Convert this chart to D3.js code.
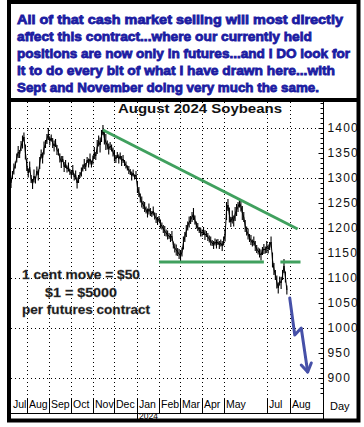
<!DOCTYPE html>
<html>
<head>
<meta charset="utf-8">
<title>August 2024 Soybeans</title>
<style>
body { margin: 0; background: #fff; }
svg { display: block; }
</style>
</head>
<body>
<div id="chart"></div>

<script src="https://cdn.jsdelivr.net/npm/d3@7"></script>
<script>

// comment box at the top, one entry per line, with the width each line takes
var noteLines = [
  "All of that cash market selling will most directly",
  "affect this contract...where our currently held",
  "positions are now only in futures...and I DO look for",
  "it to do every bit of what I have drawn here...with",
  "Sept and November doing very much the same."
];
var noteWidths = [326, 295, 333, 318, 302];

var chartTitle = "August 2024 Soybeans";

var contractNotes = ["1 cent move = $50", "$1 = $5000", "per futures contract"];

// price every 2 calendar days starting Jul 10 2023
var startDay = "2023-07-10";
var stepDays = 2;
var prices = [
  1290, 1306, 1318, 1326, 1340, 1352, 1348, 1364, 1372, 1382,
  1352, 1326, 1310, 1322, 1298, 1288, 1304, 1296, 1314, 1306,
  1330, 1348, 1340, 1360, 1368, 1378, 1388, 1374, 1380, 1370,
  1364, 1370, 1356, 1352, 1340, 1332, 1338, 1322, 1328, 1318,
  1322, 1312, 1308, 1316, 1302, 1306, 1290, 1298, 1306, 1312,
  1320, 1328, 1322, 1336, 1330, 1338, 1328, 1336, 1350, 1344,
  1362, 1374, 1366, 1384, 1396, 1380, 1372, 1366, 1358, 1364,
  1360, 1352, 1344, 1338, 1346, 1338, 1344, 1334, 1338, 1330,
  1326, 1320, 1316, 1312, 1304, 1310, 1302, 1306, 1282, 1272,
  1260, 1252, 1246, 1242, 1236, 1230, 1238, 1232, 1228, 1234,
  1224, 1220, 1214, 1218, 1208, 1204, 1198, 1194, 1190, 1186,
  1184, 1180, 1184, 1166, 1160, 1156, 1152, 1148, 1144, 1152,
  1170, 1182, 1194, 1204, 1212, 1216, 1222, 1228, 1216, 1206,
  1202, 1196, 1192, 1190, 1194, 1186, 1188, 1182, 1178, 1174,
  1170, 1166, 1172, 1168, 1172, 1166, 1170, 1164, 1174, 1186,
  1234, 1246, 1226, 1212, 1222, 1214, 1228, 1236, 1242, 1250,
  1244, 1230, 1222, 1204, 1194, 1188, 1180, 1176, 1170, 1174,
  1164, 1158, 1154, 1150, 1146, 1154, 1158, 1156, 1162, 1158,
  1164, 1172, 1136, 1118, 1106, 1092, 1080, 1094, 1090, 1106,
  1124, 1102, 1076
];
// high-low range in cents around each price above
var ranges = [
  20, 16, 22, 14, 18, 24, 16, 20, 26, 18,
  30, 24, 18, 22, 16, 20, 26, 14, 18, 22,
  24, 18, 22, 26, 16, 20, 24, 18, 14, 20,
  22, 16, 20, 14, 18, 24, 12, 20, 16, 14,
  18, 12, 16, 20, 14, 18, 22, 16, 12, 18,
  14, 20, 16, 12, 18, 22, 14, 18, 24, 16,
  28, 22, 30, 24, 20, 26, 32, 18, 22, 16,
  14, 18, 22, 16, 12, 18, 14, 20, 16, 12,
  14, 10, 16, 12, 18, 14, 10, 16, 24, 20,
  18, 22, 16, 20, 14, 18, 22, 16, 12, 18,
  14, 20, 16, 12, 18, 14, 16, 20, 14, 18,
  12, 16, 20, 14, 18, 22, 16, 20, 24, 18,
  26, 20, 24, 18, 22, 16, 20, 24, 18, 14,
  16, 12, 18, 14, 16, 20, 12, 16, 14, 18,
  12, 16, 14, 18, 12, 16, 14, 20, 18, 26,
  36, 24, 30, 20, 26, 22, 28, 24, 20, 18,
  22, 28, 20, 24, 18, 22, 16, 20, 14, 18,
  20, 16, 14, 18, 22, 16, 20, 14, 24, 18,
  16, 22, 30, 24, 20, 26, 22, 18, 24, 20,
  28, 22, 18
];

// drawn lines: [date, price]
var trendLine = [["2023-11-15", 1396], ["2024-08-12", 1198]];
var supportLeft = [["2024-02-01", 1132], ["2024-06-26", 1132]];
var supportRight = [["2024-07-19", 1132], ["2024-08-16", 1132]];
var arrowBody = [["2024-08-01", 1060], ["2024-08-08", 986], ["2024-08-17", 1000], ["2024-08-26", 912]];
var arrowHead = [["2024-08-17", 926], ["2024-08-26", 912], ["2024-08-31", 930]];

// time axis
var xDomain = ["2023-07-10", "2024-09-17"];
var monthStarts = ["2023-08-01", "2023-09-01", "2023-10-01", "2023-11-01", "2023-12-01",
  "2024-01-01", "2024-02-01", "2024-03-01", "2024-04-01", "2024-05-01", "2024-07-01", "2024-08-01"];
var monthLabels = ["Jul", "Aug", "Sep", "Oct", "Nov", "Dec", "Jan", "Feb", "Mar", "Apr", "May", "Jul", "Aug"];
var yearStart = "2024-01-01";
var yearLabel = "2024";

// price axis
var priceLabels = d3.range(900, 1401, 50);
var gridPrices = d3.range(900, 1401, 100);
var minorTicks = d3.range(870, 1451, 10);

var w = 364, h = 427;
var plotLeft = 11, plotRight = 323.5, plotTop = 102, plotBottom = 397;

var parse = d3.timeParse("%Y-%m-%d");

var x = d3.scaleTime()
  .domain(xDomain.map(parse))
  .range([plotLeft, plotRight]);

var y = d3.scaleLinear()
  .domain([900, 1400])
  .range([378, 128]);

var svg = d3.select("#chart")
  .append("svg")
  .attr("width", w).attr("height", h);

svg.append("rect").attr("width", w).attr("height", h).attr("fill", "#fff");

svg.append("defs").append("clipPath").attr("id", "plotclip")
  .append("rect")
  .attr("x", plotLeft).attr("y", plotTop)
  .attr("width", plotRight - plotLeft).attr("height", plotBottom - plotTop);

// top comment box text
var blue = "#1c1ca2";
svg.selectAll("text.note")
  .data(noteLines)
  .enter()
  .append("text")
  .attr("class", "note")
  .attr("x", 17)
  .attr("y", function(d, i) { return 24 + i * 17; })
  .attr("textLength", function(d, i) { return noteWidths[i]; })
  .attr("lengthAdjust", "spacingAndGlyphs")
  .attr("font-family", "Liberation Sans, Arial, sans-serif")
  .attr("font-weight", "bold")
  .attr("font-size", 13)
  .attr("fill", blue)
  .attr("stroke", blue)
  .attr("stroke-width", 0.8)
  .text(function(d) { return d; });

// grid
var grid = svg.append("g")
  .attr("stroke", "#000")
  .attr("stroke-width", 1)
  .attr("stroke-dasharray", "1,3");

grid.selectAll("line.h")
  .data(gridPrices)
  .enter()
  .append("line")
  .attr("x1", plotLeft).attr("x2", plotRight)
  .attr("y1", function(d) { return Math.round(y(d)) + 0.5; })
  .attr("y2", function(d) { return Math.round(y(d)) + 0.5; });

grid.selectAll("line.v")
  .data(monthStarts)
  .enter()
  .append("line")
  .attr("y1", plotTop).attr("y2", plotBottom)
  .attr("x1", function(d) { return Math.round(x(parse(d))) + 0.5; })
  .attr("x2", function(d) { return Math.round(x(parse(d))) + 0.5; });

// title
svg.append("text")
  .attr("x", 118).attr("y", 113)
  .attr("textLength", 164)
  .attr("lengthAdjust", "spacingAndGlyphs")
  .attr("font-family", "Liberation Sans, Arial, sans-serif")
  .attr("font-weight", "bold")
  .attr("font-size", 13)
  .attr("fill", "#111")
  .text(chartTitle);

var plot = svg.append("g").attr("clip-path", "url(#plotclip)");

// price series: high-low bars plus a line through the prices
var day0 = parse(startDay);
function dayX(i) { return x(d3.timeDay.offset(day0, i * stepDays)); }

plot.selectAll("line.bar")
  .data(prices)
  .enter()
  .append("line")
  .attr("class", "bar")
  .attr("x1", function(d, i) { return dayX(i); })
  .attr("x2", function(d, i) { return dayX(i); })
  .attr("y1", function(d, i) { return y(d + ranges[i] / 2); })
  .attr("y2", function(d, i) { return y(d - ranges[i] / 2); })
  .attr("stroke", "#000")
  .attr("stroke-width", 1.1);

var priceLine = d3.line()
  .x(function(d, i) { return dayX(i); })
  .y(function(d) { return y(d); });

plot.append("path")
  .datum(prices)
  .attr("d", priceLine)
  .attr("fill", "none")
  .attr("stroke", "#000")
  .attr("stroke-width", 1);

// hand drawn lines
var pairLine = d3.line()
  .x(function(d) { return x(parse(d[0])); })
  .y(function(d) { return y(d[1]); });

var green = "#40a05e";
[trendLine, supportLeft, supportRight].forEach(function(seg) {
  plot.append("path")
    .attr("d", pairLine(seg))
    .attr("fill", "none")
    .attr("stroke", green)
    .attr("stroke-width", 3);
});

var arrowCol = "#4650a8";
[arrowBody, arrowHead].forEach(function(seg) {
  plot.append("path")
    .attr("d", pairLine(seg))
    .attr("fill", "none")
    .attr("stroke", arrowCol)
    .attr("stroke-width", 3)
    .attr("stroke-linejoin", "round")
    .attr("stroke-linecap", "round");
});

// contract size note
svg.selectAll("text.cn")
  .data(contractNotes)
  .enter()
  .append("text")
  .attr("class", "cn")
  .attr("x", function(d, i) { return i == 1 ? 45 : 22; })
  .attr("y", function(d, i) { return 279 + i * 17.5; })
  .attr("textLength", function(d, i) { return [118, 72, 128][i]; })
  .attr("lengthAdjust", "spacingAndGlyphs")
  .attr("font-family", "Liberation Sans, Arial, sans-serif")
  .attr("font-weight", "bold")
  .attr("font-size", 13.5)
  .attr("fill", "#161616")
  .attr("stroke", "#555")
  .attr("stroke-width", 0.3)
  .text(function(d) { return d; });

// right price axis
var axG = svg.append("g").attr("transform", "translate(" + plotRight + ",0)");

axG.append("g")
  .call(d3.axisLeft(y).tickValues(minorTicks.filter(function(v) { return y(v) > plotTop; }))
    .tickSize(3).tickFormat(""))
  .call(function(g) { g.select(".domain").remove(); });

axG.append("g")
  .call(d3.axisLeft(y).tickValues(priceLabels).tickSize(5).tickFormat(""))
  .call(function(g) { g.select(".domain").remove(); });

axG.append("g")
  .call(d3.axisRight(y).tickValues(priceLabels).tickSize(0).tickPadding(4).tickFormat(d3.format("d")))
  .call(function(g) {
    g.select(".domain").remove();
    g.selectAll("text")
      .attr("font-family", "Liberation Sans, Arial, sans-serif")
      .attr("font-size", 12)
      .attr("letter-spacing", 1.2)
      .attr("fill", "#111");
  });

axG.selectAll("line").attr("stroke", "#000");

svg.append("line")
  .attr("x1", plotRight).attr("x2", plotRight)
  .attr("y1", plotTop).attr("y2", 419)
  .attr("stroke", "#000");

// month row
var xa = svg.append("g").attr("font-family", "Liberation Sans, Arial, sans-serif").attr("font-size", 10.5).attr("fill", "#000");

xa.selectAll("line.sep")
  .data(monthStarts)
  .enter()
  .append("line")
  .attr("x1", function(d) { return Math.round(x(parse(d))) + 0.5; })
  .attr("x2", function(d) { return Math.round(x(parse(d))) + 0.5; })
  .attr("y1", 398).attr("y2", 413)
  .attr("stroke", "#000");

var labelStarts = [xDomain[0]].concat(monthStarts);
xa.selectAll("text.m")
  .data(monthLabels)
  .enter()
  .append("text")
  .attr("x", function(d, i) { return Math.round(x(parse(labelStarts[i]))) + 2; })
  .attr("y", 408)
  .text(function(d) { return d; });

svg.append("line")
  .attr("x1", plotLeft).attr("x2", plotRight)
  .attr("y1", 413.5).attr("y2", 413.5)
  .attr("stroke", "#000");

svg.append("line")
  .attr("x1", Math.round(x(parse(yearStart))) + 0.5)
  .attr("x2", Math.round(x(parse(yearStart))) + 0.5)
  .attr("y1", 413).attr("y2", 419)
  .attr("stroke", "#000");

svg.append("text")
  .attr("x", Math.round(x(parse(yearStart))) + 2)
  .attr("y", 418.5)
  .attr("font-family", "Liberation Sans, Arial, sans-serif")
  .attr("font-size", 8.5)
  .text(yearLabel);

svg.append("text")
  .attr("x", 330).attr("y", 410)
  .attr("font-family", "Liberation Sans, Arial, sans-serif")
  .attr("font-size", 11)
  .text("Day");

// frame
svg.append("rect")
  .attr("x", 9).attr("y", 2)
  .attr("width", 349.5).attr("height", 418.5)
  .attr("fill", "none")
  .attr("stroke", "#000")
  .attr("stroke-width", 4);

svg.append("line")
  .attr("x1", 9).attr("x2", 358.5)
  .attr("y1", 100).attr("y2", 100)
  .attr("stroke", "#000")
  .attr("stroke-width", 4);

</script>
</body>
</html>
